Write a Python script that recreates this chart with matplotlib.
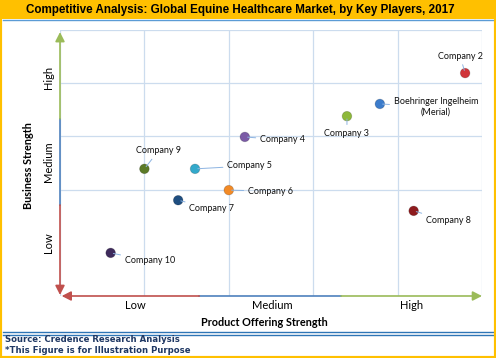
import matplotlib.pyplot as plt
from matplotlib.patches import Rectangle
from matplotlib.lines import Line2D

# 企業ごとの位置 (製品力, 事業力)
companies = ['Company 2', 'Boehringer Ingelheim\n(Merial)', 'Company 3', 'Company 4',
             'Company 9', 'Company 5', 'Company 6', 'Company 7', 'Company 8', 'Company 10']
product_strength = [4.80, 3.79, 3.40, 2.19, 1.00, 1.60, 2.00, 1.40, 4.19, 0.60]
business_strength = [4.19, 3.61, 3.38, 2.99, 2.39, 2.39, 1.99, 1.80, 1.60, 0.81]
colors = ['#D0343A', '#3C7CCB', '#8DB83A', '#7B5BA6', '#5B7A27',
          '#33A9CB', '#F28A26', '#1F4E80', '#8E1B1E', '#3E2A5C']

level_labels = ['Low', 'Medium', 'High']
x_label_pos = [0.89, 2.51, 4.17]
y_label_pos = [1.0, 2.52, 4.1]

# ラベルの位置 (ピクセルオフセット, 配置)
offsets = [(-5, 17, 'center'), (56, -3, 'center'), (0, -17, 'center'), (15, -3, 'left'),
           (14, 18, 'center'), (32, 3, 'left'), (19, -1, 'left'), (11, -8, 'left'),
           (12, -10, 'left'), (14, -8, 'left')]

W, H = 496, 358
fig = plt.figure(figsize=(W / 100, H / 100), dpi=100)
fig.patch.set_facecolor('white')

# タイトルバー
fig.patches.append(Rectangle((0, 1 - 19 / H), 1, 19 / H, transform=fig.transFigure,
                             facecolor='#FFC000', edgecolor='none', zorder=0))
fig.add_artist(Line2D([3 / W, 1 - 3 / W], [1 - 19.5 / H] * 2, color='#5B9BD5', lw=1))
fig.text(240 / W, 1 - 10 / H,
         'Competitive Analysis: Global Equine Healthcare Market, by Key Players, 2017',
         ha='center', va='center', fontsize=8.4, fontweight='bold',
         family='Liberation Sans', color='black')

# フッター
fig.add_artist(Line2D([3 / W, 1 - 3 / W], [1 - 331.5 / H] * 2, color='#2E75B6', lw=1))
fig.add_artist(Line2D([3 / W, 1 - 3 / W], [1 - 334.5 / H] * 2, color='#2E75B6', lw=1))
fig.text(5 / W, 1 - 340 / H, 'Source: Credence Research Analysis', ha='left', va='center',
         fontsize=6.1, fontweight='bold', family='DejaVu Sans', color='#1F3864')
fig.text(5 / W, 1 - 350.5 / H, '*This Figure is for Illustration Purpose', ha='left', va='center',
         fontsize=6.1, fontweight='bold', family='DejaVu Sans', color='#1F3864')

# 外枠
fig.patches.append(Rectangle((0, 0), 1, 1, transform=fig.transFigure, fill=False,
                             edgecolor='#FFC000', lw=3, zorder=10))

ax = fig.add_axes([60 / W, 1 - 296 / H, 422 / W, 266 / H])
ax.set_xlim(0, 5)
ax.set_ylim(0, 5)
for s in ax.spines.values():
    s.set_visible(False)

ax.set_xticks(range(6), minor=True)
ax.set_yticks(range(6), minor=True)
ax.grid(which='minor', color='#CCDCEE', lw=0.9)
ax.tick_params(which='minor', length=0)
ax.set_xticks(x_label_pos, level_labels)
ax.set_yticks(y_label_pos, level_labels)
ax.tick_params(which='major', length=0, labelsize=8)
ax.tick_params(axis='x', pad=3)
ax.tick_params(axis='y', pad=4)
for t in ax.get_yticklabels():
    t.set_rotation(90)
    t.set_va('center')
for t in ax.get_xticklabels() + ax.get_yticklabels():
    t.set_family('Lato')

# 色分けされた軸の矢印
red, blue, green = '#C0504D', '#4F81BD', '#9BBB59'
lw = 1.2
head = '-|>,head_length=0.55,head_width=0.28'
ax.plot([0, 0], [1.71, 3.33], color=blue, lw=lw, clip_on=False, zorder=3)
ax.plot([1.65, 3.33], [0, 0], color=blue, lw=lw, clip_on=False, zorder=3)
for tip, tail, col in [((0, 0.02), (0, 1.71), red), ((0, 4.96), (0, 3.33), green),
                       ((0.02, 0), (1.65, 0), red), ((5.0, 0), (3.33, 0), green)]:
    ax.annotate('', xy=tip, xytext=tail,
                arrowprops=dict(arrowstyle=head, color=col, lw=lw, shrinkA=0, shrinkB=0),
                annotation_clip=False)

# 企業のプロット
ax.scatter(product_strength, business_strength, s=48, c=colors, edgecolors='#00000030',
           linewidths=0.6, zorder=5)
for name, x, y, (dx, dy, ha) in zip(companies, product_strength, business_strength, offsets):
    ax.annotate(name, xy=(x, y), xytext=(dx, dy), textcoords='offset pixels',
                ha=ha, va='center', multialignment='center', fontsize=6.5, family='Lato',
                color='#111111',
                arrowprops=dict(arrowstyle='-', color='#8DB4E2', lw=0.7,
                                shrinkA=1, shrinkB=2), zorder=6)

fig.text(264 / W, 1 - 322 / H, 'Product Offering Strength', ha='center', va='center',
         fontsize=7.8, fontweight='bold', family='Lato')
fig.text(28 / W, 1 - 166 / H, 'Business Strength', ha='center', va='center', rotation=90,
         fontsize=7.8, fontweight='bold', family='Lato')

fig.savefig('out.png', dpi=100)
